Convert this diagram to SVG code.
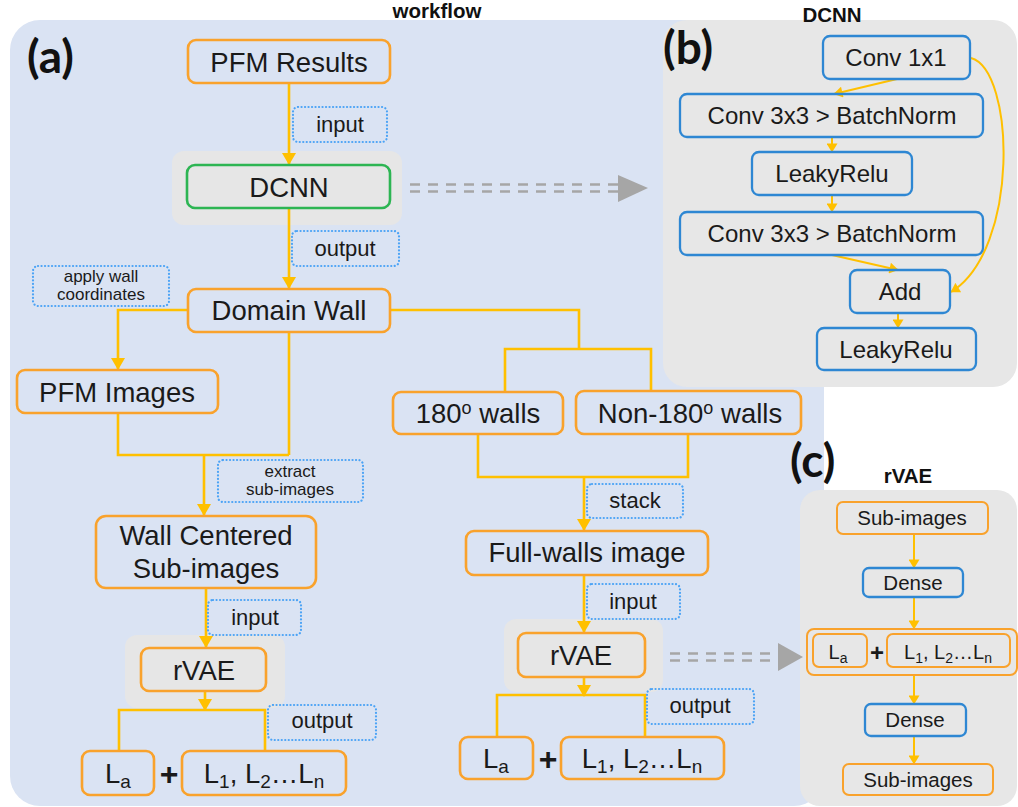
<svg xmlns="http://www.w3.org/2000/svg" width="1018" height="807" viewBox="0 0 1018 807">
<defs>
<style>
.t{font-family:"Liberation Sans",Arial,sans-serif;fill:#1a1a1a;text-anchor:middle}
.big{font-size:27.5px}
.lbl{font-size:22px}
.sm{font-size:17px}
.mb{font-size:24px}
.cb{font-size:20.5px}
.ttl{font-family:"Liberation Sans",Arial,sans-serif;font-weight:bold;font-size:20.5px;fill:#111;text-anchor:middle}
.pl{font-family:Lato,"Liberation Sans",sans-serif;font-weight:bold;font-size:46px;fill:#111}
.ob{fill:none;stroke:#F9A22C;stroke-width:2.6}
.obs{fill:none;stroke:#F9A22C;stroke-width:2}
.gb{fill:none;stroke:#2DB553;stroke-width:2.6}
.bb{fill:none;stroke:#2E87D3;stroke-width:2.3}
.dl{fill:none;stroke:#4BA3F5;stroke-width:2.2;stroke-dasharray:0.1 3.4;stroke-linecap:round}
.bd{fill:#E6E6E6}
.cn{fill:none;stroke:#FFC000;stroke-width:2.6}
.cs{fill:none;stroke:#FFC000;stroke-width:2}
.dsh{fill:none;stroke:#A6A6A6;stroke-width:2.6;stroke-dasharray:10 8}
</style>
<marker id="ah" markerUnits="userSpaceOnUse" markerWidth="14" markerHeight="14" viewBox="0 0 12 14" refX="11" refY="7" orient="auto">
<path d="M0,0 L12,7 L0,14 Z" fill="#FFC000"/>
</marker>
<marker id="ahs" markerUnits="userSpaceOnUse" markerWidth="10" markerHeight="11" viewBox="0 0 9 11" refX="8.5" refY="5.5" orient="auto">
<path d="M0,0 L9,5.5 L0,11 Z" fill="#FFC000"/>
</marker>
</defs>

<g id="panels">
<rect x="10" y="20" width="814" height="786" rx="30" fill="#DAE3F3"/>
<rect x="663" y="20" width="354" height="367" rx="24" fill="#E7E7E7"/>
<rect x="800" y="490" width="217" height="316" rx="20" fill="#E7E7E7"/>
<text class="ttl" x="437" y="18">workflow</text>
<text class="ttl" x="832" y="22">DCNN</text>
<text class="ttl" x="908" y="483">rVAE</text>
<text class="pl" x="27" y="73">(a)</text>
<text class="pl" x="663" y="64">(b)</text>
<text class="pl" x="790" y="477">(c)</text>
</g>

<g id="backdrops">
<rect class="bd" x="172" y="151" width="230" height="74" rx="12"/>
<rect class="bd" x="125" y="635" width="160" height="73" rx="12"/>
<rect class="bd" x="504" y="619" width="159" height="73" rx="12"/>
</g>

<g id="connectors">
<path class="cn" d="M289,83 V164" marker-end="url(#ah)"/>
<path class="cn" d="M289,208 V288" marker-end="url(#ah)"/>
<path class="cn" d="M188,310 H118 V369" marker-end="url(#ah)"/>
<path class="cn" d="M390,310 H579 V349"/>
<path class="cn" d="M505,392 V349 H651 V391"/>
<path class="cn" d="M289,332 V455"/>
<path class="cn" d="M118,413 V455 H289"/>
<path class="cn" d="M204,455 V515" marker-end="url(#ah)"/>
<path class="cn" d="M206,588 V647" marker-end="url(#ah)"/>
<path class="cn" d="M205,691 V710" marker-end="url(#ah)"/>
<path class="cn" d="M119,751 V710 H265 V751"/>
<path class="cn" d="M478,434 V477 H688 V434"/>
<path class="cn" d="M584,477 V530" marker-end="url(#ah)"/>
<path class="cn" d="M584,575 V632" marker-end="url(#ah)"/>
<path class="cn" d="M584,677 V696" marker-end="url(#ah)"/>
<path class="cn" d="M497,737 V695 H645 V737"/>
<path class="cs" d="M897,79 L834,94" marker-end="url(#ahs)"/>
<path class="cs" d="M832,137 V152" marker-end="url(#ahs)"/>
<path class="cs" d="M832,195 V212" marker-end="url(#ahs)"/>
<path class="cs" d="M832,255 L898,270" marker-end="url(#ahs)"/>
<path class="cs" d="M898,313 V328" marker-end="url(#ahs)"/>
<path class="cs" d="M971,58 C1015,70 1020,250 951,292" marker-end="url(#ahs)"/>
<path class="cs" d="M914,534 V568" marker-end="url(#ahs)"/>
<path class="cs" d="M914,597 V629" marker-end="url(#ahs)"/>
<path class="cs" d="M914,675 V704" marker-end="url(#ahs)"/>
<path class="cs" d="M914,736 V764" marker-end="url(#ahs)"/>
<path class="dsh" d="M410,184.5 H618 M410,191.5 H618"/>
<polygon points="618,175 648,188 618,202" fill="#A6A6A6"/>
<path class="dsh" d="M670,653.5 H771 M670,660.5 H771"/>
<polygon points="778,643 803,657 778,671" fill="#A6A6A6"/>
</g>

<g id="pfm-results">
<rect class="ob" x="188" y="40" width="202" height="43" rx="8"/>
<text class="t big" x="289" y="72">PFM Results</text>
</g>
<g id="lbl-input-1">
<rect class="dl" x="293" y="107" width="94" height="35" rx="5"/>
<text class="t lbl" x="340" y="132">input</text>
</g>
<g id="dcnn">
<rect class="gb" x="187" y="165" width="203" height="43" rx="8"/>
<text class="t big" x="289" y="197">DCNN</text>
</g>
<g id="lbl-output-1">
<rect class="dl" x="292" y="231" width="107" height="35" rx="5"/>
<text class="t lbl" x="345" y="256">output</text>
</g>
<g id="lbl-apply">
<rect class="dl" x="33" y="266" width="136" height="40" rx="5"/>
<text class="t sm" x="101" y="282">apply wall</text>
<text class="t sm" x="101" y="300">coordinates</text>
</g>
<g id="domain-wall">
<rect class="ob" x="188" y="289" width="202" height="43" rx="8"/>
<text class="t big" x="289" y="320">Domain Wall</text>
</g>
<g id="pfm-images">
<rect class="ob" x="17" y="370" width="201" height="43" rx="8"/>
<text class="t big" x="117" y="402">PFM Images</text>
</g>
<g id="lbl-extract">
<rect class="dl" x="218" y="460" width="145" height="42" rx="5"/>
<text class="t sm" x="290" y="477">extract</text>
<text class="t sm" x="290" y="495">sub-images</text>
</g>
<g id="wall-centered">
<rect class="ob" x="96" y="516" width="220" height="72" rx="10"/>
<text class="t big" x="206" y="545">Wall Centered</text>
<text class="t big" x="206" y="578">Sub-images</text>
</g>
<g id="lbl-input-2">
<rect class="dl" x="208" y="600" width="93" height="35" rx="5"/>
<text class="t lbl" x="255" y="625">input</text>
</g>
<g id="rvae-left">
<rect class="ob" x="141" y="648" width="125" height="43" rx="8"/>
<text class="t big" x="204" y="680">rVAE</text>
</g>
<g id="lbl-output-2">
<rect class="dl" x="268" y="705" width="108" height="35" rx="5"/>
<text class="t lbl" x="322" y="728">output</text>
</g>
<g id="la-left">
<rect class="ob" x="82" y="751" width="72" height="44" rx="8"/>
<text class="t big" x="118" y="783">L<tspan font-size="19" dy="5">a</tspan></text>
</g>
<text class="t" x="169" y="785" font-size="32" font-weight="bold">+</text>
<g id="ln-left">
<rect class="ob" x="182" y="751" width="164" height="44" rx="8"/>
<text class="t big" x="264" y="783">L<tspan font-size="19" dy="5">1</tspan><tspan dy="-5">, L</tspan><tspan font-size="19" dy="5">2</tspan><tspan dy="-5">…L</tspan><tspan font-size="19" dy="5">n</tspan></text>
</g>

<g id="walls-180">
<rect class="ob" x="393" y="392" width="170" height="42" rx="8"/>
<text class="t big" x="478" y="423">180<tspan font-size="18" dy="-9">o</tspan><tspan dy="9"> walls</tspan></text>
</g>
<g id="walls-non180">
<rect class="ob" x="576" y="391" width="225" height="43" rx="8"/>
<text class="t big" x="690" y="423">Non-180<tspan font-size="18" dy="-9">o</tspan><tspan dy="9"> walls</tspan></text>
</g>
<g id="lbl-stack">
<rect class="dl" x="587" y="484" width="96" height="34" rx="5"/>
<text class="t lbl" x="635" y="508">stack</text>
</g>
<g id="full-walls">
<rect class="ob" x="466" y="531" width="242" height="44" rx="8"/>
<text class="t big" x="587" y="562">Full-walls image</text>
</g>
<g id="lbl-input-3">
<rect class="dl" x="587" y="584" width="93" height="35" rx="5"/>
<text class="t lbl" x="633" y="609">input</text>
</g>
<g id="rvae-right">
<rect class="ob" x="518" y="633" width="127" height="44" rx="8"/>
<text class="t big" x="581" y="665">rVAE</text>
</g>
<g id="lbl-output-3">
<rect class="dl" x="647" y="689" width="107" height="35" rx="5"/>
<text class="t lbl" x="700" y="713">output</text>
</g>
<g id="la-right">
<rect class="ob" x="460" y="737" width="73" height="42" rx="8"/>
<text class="t big" x="496" y="768">L<tspan font-size="19" dy="5">a</tspan></text>
</g>
<text class="t" x="548" y="770" font-size="32" font-weight="bold">+</text>
<g id="ln-right">
<rect class="ob" x="561" y="737" width="163" height="42" rx="8"/>
<text class="t big" x="642" y="768">L<tspan font-size="19" dy="5">1</tspan><tspan dy="-5">, L</tspan><tspan font-size="19" dy="5">2</tspan><tspan dy="-5">…L</tspan><tspan font-size="19" dy="5">n</tspan></text>
</g>

<g id="b-conv1x1">
<rect class="bb" x="823" y="36" width="147" height="43" rx="7"/>
<text class="t mb" x="896" y="66">Conv 1x1</text>
</g>
<g id="b-conv3x3-1">
<rect class="bb" x="680" y="94" width="303" height="43" rx="7"/>
<text class="t mb" x="832" y="124">Conv 3x3 &gt; BatchNorm</text>
</g>
<g id="b-leaky-1">
<rect class="bb" x="752" y="152" width="160" height="43" rx="7"/>
<text class="t mb" x="832" y="182">LeakyRelu</text>
</g>
<g id="b-conv3x3-2">
<rect class="bb" x="680" y="212" width="303" height="43" rx="7"/>
<text class="t mb" x="832" y="242">Conv 3x3 &gt; BatchNorm</text>
</g>
<g id="b-add">
<rect class="bb" x="850" y="270" width="100" height="43" rx="7"/>
<text class="t mb" x="900" y="300">Add</text>
</g>
<g id="b-leaky-2">
<rect class="bb" x="817" y="328" width="159" height="42" rx="7"/>
<text class="t mb" x="896" y="358">LeakyRelu</text>
</g>

<g id="c-sub-1">
<rect class="obs" x="837" y="502" width="151" height="32" rx="6"/>
<text class="t cb" x="912" y="525">Sub-images</text>
</g>
<g id="c-dense-1">
<rect class="bb" x="863" y="568" width="100" height="29" rx="6" stroke-width="2"/>
<text class="t cb" x="913" y="590">Dense</text>
</g>
<g id="c-latent">
<rect class="obs" x="807" y="629" width="210" height="46" rx="7"/>
<rect class="obs" x="813" y="634" width="54" height="33" rx="6"/>
<text class="t" x="838" y="659" font-size="20">L<tspan font-size="14" dy="4">a</tspan></text>
<text class="t" x="877" y="661" font-size="24" font-weight="bold">+</text>
<rect class="obs" x="887" y="634" width="123" height="33" rx="6"/>
<text class="t" x="948" y="659" font-size="20">L<tspan font-size="14" dy="4">1</tspan><tspan dy="-4">, L</tspan><tspan font-size="14" dy="4">2</tspan><tspan dy="-4">…L</tspan><tspan font-size="14" dy="4">n</tspan></text>
</g>
<g id="c-dense-2">
<rect class="bb" x="865" y="704" width="101" height="32" rx="6" stroke-width="2"/>
<text class="t cb" x="915" y="727">Dense</text>
</g>
<g id="c-sub-2">
<rect class="obs" x="843" y="764" width="150" height="31" rx="6"/>
<text class="t cb" x="918" y="787">Sub-images</text>
</g>
</svg>
